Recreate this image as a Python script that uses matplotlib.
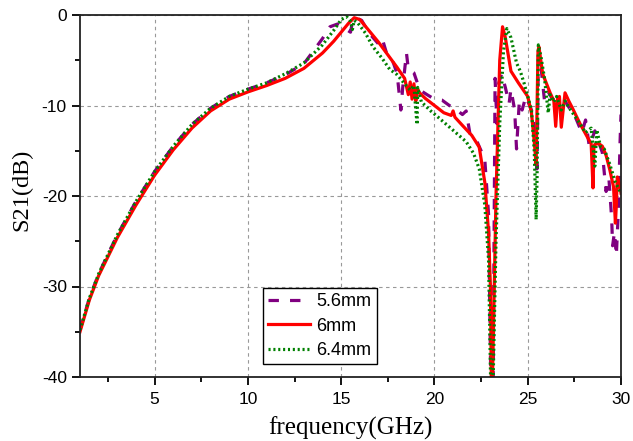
import numpy as np
import matplotlib
matplotlib.use("Agg")
import matplotlib.pyplot as plt

# S21 vs frequency for three sizes
f_56 = [1.0, 1.5, 2.0, 3.0, 4.0, 5.0, 6.0, 7.0, 8.0, 9.0, 10.0, 11.0, 12.0, 13.0, 13.5,
        14.0, 14.4, 14.8, 15.2, 15.5, 15.6, 15.8, 16.1, 16.5, 17.0, 17.2, 17.4, 17.8, 18.0,
        18.2, 18.3, 18.5, 18.6, 18.9, 19.1, 19.3, 19.6, 20.0, 20.4, 20.8, 21.2, 21.5, 21.7,
        21.9, 22.2, 22.5, 22.7, 22.9, 23.05, 23.15, 23.25, 23.35, 23.45, 23.6, 23.8, 24.0,
        24.1, 24.3, 24.4, 24.55, 24.7, 24.9, 25.1, 25.3, 25.4, 25.5, 25.57, 25.7, 25.9, 26.1,
        26.3, 26.5, 26.7, 27.0, 27.3, 27.6, 27.9, 28.1, 28.3, 28.6, 28.8, 29.0, 29.2, 29.35,
        29.5, 29.55, 29.65, 29.75, 29.85, 29.95, 30.0]
s21_56 = [-34.8, -31.3, -28.6, -24.3, -20.6, -17.3, -14.5, -12.1, -10.3, -9.0, -8.2, -7.5,
          -6.6, -5.4, -4.0, -2.6, -1.3, -1.0, -1.5, -1.9, -0.8, -0.3, -0.6, -2.0, -3.2, -2.6,
          -4.0, -5.3, -6.5, -10.5, -8.0, -4.2, -6.0, -6.4, -7.6, -8.4, -8.8, -9.3, -9.4, -10.0,
          -10.5, -11.0, -10.6, -13.1, -13.6, -15.0, -16.0, -22.0, -45.0, -40.0, -7.0, -12.0,
          -7.5, -6.5, -8.0, -9.8, -8.2, -10.5, -14.8, -9.5, -10.5, -9.0, -10.0, -11.0, -14.0,
          -17.0, -4.5, -5.5, -9.5, -8.5, -9.2, -9.5, -9.8, -9.5, -10.5, -11.5, -13.0, -11.6,
          -14.5, -12.8, -14.0, -15.2, -19.5, -18.0, -22.5, -25.5, -24.0, -26.6, -22.0, -14.0,
          -11.0]

f_6 = [1.0, 1.5, 2.0, 3.0, 4.0, 5.0, 6.0, 7.0, 8.0, 9.0, 10.0, 11.0, 12.0, 13.0, 14.0, 14.6,
       15.0, 15.4, 15.7, 16.0, 16.4, 17.0, 17.5, 18.0, 18.4, 18.6, 18.7, 18.8, 18.9, 19.0, 19.1,
       19.2, 19.5, 20.0, 20.5, 20.9, 21.0, 21.1, 21.5, 22.0, 22.4, 22.7, 22.9, 23.0, 23.07,
       23.15, 23.3, 23.5, 23.65, 23.8, 24.1, 24.5, 25.0, 25.2, 25.35, 25.45, 25.55, 25.6, 25.8,
       26.2, 26.4, 26.5, 26.6, 26.7, 26.8, 27.0, 27.2, 27.4, 27.8, 28.2, 28.4, 28.5, 28.55,
       28.6, 28.8, 29.0, 29.2, 29.4, 29.6, 29.7, 29.75, 29.8, 29.9, 30.0]
s21_6 = [-35.0, -31.5, -28.8, -24.6, -21.0, -17.7, -14.9, -12.5, -10.6, -9.3, -8.5, -7.8, -7.0,
         -5.9, -4.2, -2.9, -1.9, -0.9, -0.3, -0.5, -1.5, -3.0, -4.4, -5.8, -7.0, -8.8, -7.4,
         -9.3, -7.6, -9.5, -8.2, -8.6, -9.2, -10.0, -10.8, -11.1, -10.6, -11.3, -12.2, -13.3,
         -14.6, -18.5, -24.0, -30.0, -45.0, -36.0, -20.0, -5.0, -1.3, -2.5, -6.2, -7.5, -9.0,
         -10.8, -14.0, -16.5, -4.0, -3.5, -6.5, -8.6, -9.5, -12.3, -9.2, -9.0, -12.4, -8.6,
         -9.5, -10.3, -12.0, -13.5, -14.2, -19.1, -14.5, -14.3, -14.2, -14.5, -15.5, -17.1,
         -19.0, -23.0, -21.0, -17.9, -18.5, -19.7]

f_64 = [1.0, 1.5, 2.0, 3.0, 4.0, 5.0, 6.0, 7.0, 8.0, 9.0, 10.0, 11.0, 12.0, 13.0, 14.0, 14.6,
        15.0, 15.3, 15.5, 15.6, 15.7, 15.9, 16.3, 16.7, 17.2, 17.6, 18.0, 18.4, 18.7, 18.9, 19.0,
        19.07, 19.1, 19.3, 19.8, 20.2, 20.7, 21.2, 21.7, 22.1, 22.4, 22.7, 22.9, 23.05, 23.15,
        23.3, 23.5, 23.7, 23.88, 24.1, 24.4, 24.6, 24.8, 25.0, 25.2, 25.35, 25.45, 25.5, 25.57,
        25.7, 25.9, 26.1, 26.2, 26.4, 26.55, 26.8, 27.0, 27.3, 27.8, 28.1, 28.4, 28.6, 28.7,
        28.9, 29.1, 29.4, 29.7, 30.0]
s21_64 = [-34.8, -31.3, -28.6, -24.3, -20.6, -17.3, -14.5, -12.1, -10.3, -9.0, -8.2, -7.5, -6.5,
          -5.3, -3.3, -1.7, -0.5, -0.2, -0.7, -1.6, -0.6, -0.9, -2.0, -3.5, -4.8, -6.0, -6.6,
          -7.6, -8.3, -7.8, -10.5, -12.1, -8.0, -9.6, -10.6, -11.3, -12.2, -13.1, -14.0, -15.3,
          -17.0, -21.0, -27.0, -45.0, -40.0, -25.0, -12.0, -4.0, -1.5, -2.5, -5.3, -6.2, -7.5,
          -9.0, -10.5, -15.0, -22.6, -18.0, -3.3, -4.5, -7.0, -10.8, -8.8, -9.6, -9.0, -10.5,
          -9.5, -10.5, -12.0, -13.0, -12.5, -16.7, -12.7, -14.5, -14.8, -16.5, -18.5, -19.7]

labels = ["5.6mm", "6mm", "6.4mm"]
colors = ["#800080", "#ff0000", "#008000"]

plt.rcParams["lines.scale_dashes"] = False
plt.rcParams["axes.unicode_minus"] = False
plt.rcParams["font.family"] = ["Liberation Sans", "DejaVu Sans"]

fig = plt.figure(figsize=(6.33, 4.41), dpi=100)
ax = fig.add_axes([80 / 633, 1 - 377 / 441, 541 / 633, 362 / 441])

ax.plot(f_56, s21_56, color=colors[0], lw=2.3, dashes=(7.5, 8), label=labels[0])
ax.plot(f_6, s21_6, color=colors[1], lw=2.3, label=labels[1])
ax.plot(f_64, s21_64, color=colors[2], lw=2.3, dashes=(1.5, 2.0), label=labels[2])

ax.set_xlim(1, 30)
ax.set_ylim(-40, 0)
ax.set_xticks([5, 10, 15, 20, 25, 30])
ax.set_xticks([2.5, 7.5, 12.5, 17.5, 22.5, 27.5], minor=True)
ax.set_yticks([-40, -30, -20, -10, 0])
ax.set_yticks([-35, -25, -15, -5], minor=True)
ax.grid(True, which="major", color="#999999", lw=0.8, dashes=(2.5, 2.5))
ax.tick_params(which="major", direction="out", length=6, width=1.3, labelsize=12.5,
               top=False, right=False)
ax.tick_params(axis="x", which="major", pad=5)
ax.tick_params(which="minor", direction="out", length=3.5, width=1.3, top=False, right=False)
for sp in ax.spines.values():
    sp.set_linewidth(1.3)
    sp.set_color("#222222")

ax.set_xlabel("frequency(GHz)", family="Liberation Serif", fontsize=18, va="baseline")
ax.xaxis.set_label_coords(0.5, -(434.5 - 377) / 362)
ax.set_ylabel("S21(dB)", family="Liberation Serif", fontsize=17.5, va="center")
ax.yaxis.set_label_coords((22 - 80) / 541, (377 - 190) / 362)

leg = ax.legend(loc="lower left", bbox_to_anchor=(0.338, 0.035), fontsize=13, fancybox=False,
                framealpha=1, edgecolor="black", handlelength=2.3, handletextpad=0.35,
                borderpad=0.3, labelspacing=0.4, borderaxespad=0)
leg.get_frame().set_linewidth(1.0)

fig.savefig("out.png", dpi=100)
